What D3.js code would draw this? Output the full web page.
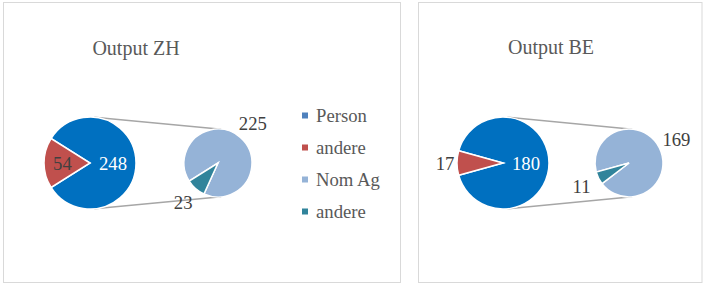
<!DOCTYPE html>
<html>
<head>
<meta charset="utf-8">
<script src="https://cdn.jsdelivr.net/npm/d3@7"></script>
<style>
  html, body { margin: 0; padding: 0; background: #fff; }
  svg { display: block; }
</style>
</head>
<body>
<svg id="chart" width="707" height="286"></svg>
<script>
// ---- data ----
const chartTitles = ["Output ZH", "Output BE"];
const mainCategories = ["Person", "andere"];
const subCategories = ["Nom Ag", "andere"];
const legendLabels = ["Person", "andere", "Nom Ag", "andere"];
const mainValuesZH = [248, 54];
const subValuesZH = [225, 23];
const mainValuesBE = [180, 17];
const subValuesBE = [169, 11];

// ---- styles ----
const mainColors = ["#0070c0", "#c0504d"];
const subColors = ["#95b3d7", "#31849b"];
const legendColors = ["#4f81bd", "#c0504d", "#95b3d7", "#31849b"];
const labelColor = "#404040";
const titleColor = "#595959";
const FONT = "'Liberation Serif'";

const svg = d3.select("#chart");

const panels = [
  { x0: 3.5, x1: 400.5, title: chartTitles[0], titleX: 136, titleY: 55,
    main: mainValuesZH, sub: subValuesZH, cx: 90, cx2: 218, legend: true },
  { x0: 418.5, x1: 702, title: chartTitles[1], titleX: 551, titleY: 54,
    main: mainValuesBE, sub: subValuesBE, cx: 503, cx2: 629, legend: false }
];

const cy = 163, r1 = 46, r2 = 34;

panels.forEach(p => {
  const g = svg.append("g");
  g.append("rect")
    .attr("x", p.x0).attr("y", 2.5)
    .attr("width", p.x1 - p.x0).attr("height", 280)
    .attr("fill", "#fff").attr("stroke", "#d9d9d9").attr("stroke-width", 1);

  g.append("text")
    .attr("x", p.titleX).attr("y", p.titleY)
    .attr("text-anchor", "middle")
    .style("font-family", FONT)
    .style("font-size", "20px")
    .attr("fill", titleColor)
    .text(p.title);

  const mainTotal = d3.sum(p.main);
  const otherAngle = 2 * Math.PI * p.main[1] / mainTotal;
  const h = otherAngle / 2;

  // main pie: "andere" slice centred at 9 o'clock
  const mainPie = d3.pie().sort(null)
    .startAngle(-Math.PI / 2 + h)
    .endAngle(-Math.PI / 2 + h + 2 * Math.PI);
  const mainArcs = mainPie(p.main);

  // secondary pie
  const subStart = -Math.PI / 2 - h;
  const subPie = d3.pie().sort(null)
    .startAngle(subStart)
    .endAngle(subStart + 2 * Math.PI);
  const subArcs = subPie(p.sub);

  // connector lines (external tangents)
  const dx = p.cx2 - p.cx;
  const a = Math.asin((r1 - r2) / dx);
  [-1, 1].forEach(s => {
    g.append("line")
      .attr("x1", p.cx + r1 * Math.sin(a)).attr("y1", cy + s * r1 * Math.cos(a))
      .attr("x2", p.cx2 + r2 * Math.sin(a)).attr("y2", cy + s * r2 * Math.cos(a))
      .attr("stroke", "#a6a6a6").attr("stroke-width", 1.5);
  });

  const arc1 = d3.arc().innerRadius(0).outerRadius(r1);
  const arc2 = d3.arc().innerRadius(0).outerRadius(r2);

  g.append("g").attr("transform", `translate(${p.cx},${cy})`)
    .selectAll("path").data(mainArcs).join("path")
    .attr("d", arc1)
    .attr("fill", (d, i) => mainColors[i])
    .attr("stroke", "#fff").attr("stroke-width", 1.5);

  g.append("g").attr("transform", `translate(${p.cx2},${cy})`)
    .selectAll("path").data(subArcs).join("path")
    .attr("d", arc2)
    .attr("fill", (d, i) => subColors[i])
    .attr("stroke", "#fff").attr("stroke-width", 1.5);

  mainArcs.forEach((d, i) => {
    const span = d.endAngle - d.startAngle;
    const mid = (d.startAngle + d.endAngle) / 2;
    let rad, fill;
    if (span > Math.PI) { rad = r1 * 0.5; fill = "#fff"; }
    else if (span > Math.PI / 4) { rad = r1 * 0.6; fill = labelColor; }
    else { rad = r1 + 12; fill = labelColor; }
    g.append("text")
      .attr("x", p.cx + rad * Math.sin(mid))
      .attr("y", cy - rad * Math.cos(mid))
      .attr("dy", "0.35em")
      .attr("text-anchor", "middle")
      .style("font-family", FONT)
      .style("font-size", "18.7px")
      .attr("fill", fill)
      .text(d.data);
  });

  subArcs.forEach((d, i) => {
    const mid = (d.startAngle + d.endAngle) / 2;
    const rad = r2 + 19;
    g.append("text")
      .attr("x", p.cx2 + rad * Math.sin(mid))
      .attr("y", cy - rad * Math.cos(mid))
      .attr("dy", "0.35em")
      .attr("text-anchor", "middle")
      .style("font-family", FONT)
      .style("font-size", "18.7px")
      .attr("fill", labelColor)
      .text(d.data);
  });

  if (p.legend) {
    const ly = d3.scalePoint().domain(d3.range(legendLabels.length)).range([115.5, 211.5]);
    const lg = g.append("g");
    legendLabels.forEach((lab, i) => {
      lg.append("rect")
        .attr("x", 302).attr("y", ly(i) - 3)
        .attr("width", 6).attr("height", 6)
        .attr("fill", legendColors[i]);
      lg.append("text")
        .attr("x", 316).attr("y", ly(i))
        .attr("dy", "0.33em")
        .style("font-family", FONT)
        .style("font-size", "18.7px")
        .attr("fill", titleColor)
        .text(lab);
    });
  }
});
</script>
</body>
</html>
